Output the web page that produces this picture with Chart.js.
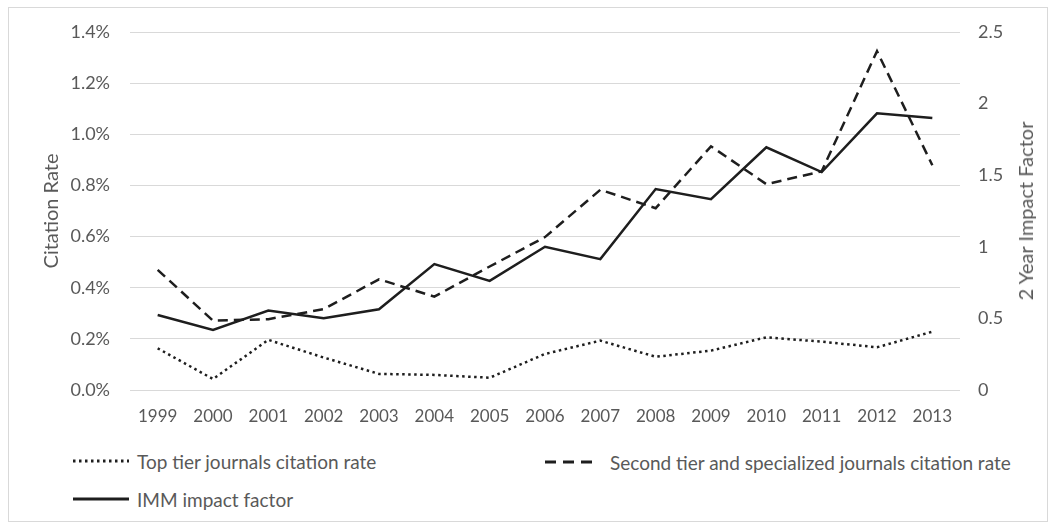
<!DOCTYPE html>
<html>
<head>
  <title>Citation Rate and IMM Impact Factor</title>
  <script src="https://cdn.jsdelivr.net/npm/chart.js@4.4.0/dist/chart.umd.min.js"></script>
  <style>
    body {
      margin: 0;
      padding: 0;
      background: #fff;
      font-family: Lato, "Open Sans", sans-serif;
    }

    #frame {
      position: absolute;
      left: 8px;
      top: 7px;
      width: 1040px;
      height: 515px;
      border: 1px solid #d9d9d9;
      box-sizing: border-box;
    }

    #wrap {
      position: absolute;
      left: 0;
      top: 0;
    }

    /* right axis title reads bottom to top, like the left one */
    #rightTitle {
      position: absolute;
      left: 1025px;
      top: 211px;
      transform: translate(-50%, -50%) rotate(-90deg);
      color: #595959;
      font-size: 20px;
      white-space: nowrap;
    }

    .legend-item {
      position: absolute;
      height: 20px;
      display: flex;
      align-items: center;
      color: #595959;
      font-size: 19px;
      white-space: nowrap;
    }
  </style>
</head>
<body>
  <div id="frame"></div>
  <div id="wrap"><canvas id="chart" width="1056" height="430"></canvas></div>
  <div id="rightTitle">2 Year Impact Factor</div>
  <div id="legend"></div>

  <script>
    // values
    const years = ['1999', '2000', '2001', '2002', '2003', '2004', '2005', '2006',
                   '2007', '2008', '2009', '2010', '2011', '2012', '2013'];

    // citation rates, in percent (left axis)
    const topTier = [0.163, 0.043, 0.196, 0.127, 0.063, 0.059, 0.048, 0.141,
                     0.193, 0.130, 0.154, 0.206, 0.189, 0.167, 0.228];
    const secondTier = [0.470, 0.271, 0.277, 0.316, 0.433, 0.365, 0.483, 0.598,
                        0.783, 0.711, 0.953, 0.805, 0.855, 1.325, 0.879];

    // 2 year impact factor (right axis)
    const immImpact = [0.524, 0.420, 0.555, 0.501, 0.564, 0.879, 0.762, 1.000,
                       0.914, 1.403, 1.333, 1.695, 1.522, 1.932, 1.900];

    const seriesNames = ['Top tier journals citation rate',
                         'Second tier and specialized journals citation rate',
                         'IMM impact factor'];

    const textColor = '#595959';
    const gridColor = '#d9d9d9';
    const lineColor = '#1e1e1e';

    const datasets = [
      {
        label: seriesNames[0],
        data: topTier,
        yAxisID: 'y',
        borderColor: lineColor,
        borderWidth: 2.5,
        borderDash: [2.5, 3.5],
        dash: '2.5 3.5'
      },
      {
        label: seriesNames[1],
        data: secondTier,
        yAxisID: 'y',
        borderColor: lineColor,
        borderWidth: 2.5,
        borderDash: [10, 6],
        dash: '11 7'
      },
      {
        label: seriesNames[2],
        data: immImpact,
        yAxisID: 'y1',
        borderColor: lineColor,
        borderWidth: 2.5,
        borderDash: [],
        dash: ''
      }
    ];

    datasets.forEach(d => {
      d.pointRadius = 0;
      d.tension = 0;
      d.fill = false;
    });

    const ctx = document.getElementById('chart').getContext('2d');
    const chart = new Chart(ctx, {
      type: 'line',
      data: {
        labels: years,
        datasets: datasets
      },
      options: {
        responsive: false,
        animation: false,
        layout: {
          padding: { top: 32, left: 0, right: 0, bottom: 0 }
        },
        plugins: {
          legend: { display: false },
          tooltip: { enabled: false }
        },
        scales: {
          x: {
            offset: true,
            grid: { display: false, drawTicks: false },
            border: { display: false },
            ticks: {
              color: textColor,
              font: { family: 'Lato', size: 17 },
              padding: 16,
              maxRotation: 0
            },
            afterFit: s => { s.height = 40; }
          },
          y: {
            position: 'left',
            min: 0,
            max: 1.4,
            grid: { color: gridColor, lineWidth: 1, drawTicks: false },
            border: { display: false },
            ticks: {
              stepSize: 0.2,
              color: textColor,
              font: { family: 'Lato', size: 18 },
              padding: 20,
              callback: v => v.toFixed(1) + '%'
            },
            title: {
              display: true,
              text: 'Citation Rate',
              color: textColor,
              font: { family: 'Lato', size: 20 },
              padding: { top: 40, bottom: 0 }
            },
            afterFit: s => { s.width = 130; }
          },
          y1: {
            position: 'right',
            min: 0,
            max: 2.5,
            grid: { display: false, drawTicks: false },
            border: { display: false },
            ticks: {
              stepSize: 0.5,
              color: textColor,
              font: { family: 'Lato', size: 18 },
              padding: 18,
              callback: v => String(+v.toFixed(1))
            },
            afterFit: s => { s.width = 96; }
          }
        }
      }
    });

    // legend in two columns like the original, built from the datasets
    const legendPos = [
      { left: 73, top: 451, w: 56, gap: 8 },
      { left: 545, top: 452, w: 52, gap: 13 },
      { left: 73, top: 489, w: 56, gap: 8 }
    ];
    const legend = document.getElementById('legend');
    datasets.forEach((d, i) => {
      const p = legendPos[i];
      const item = document.createElement('div');
      item.className = 'legend-item';
      item.style.left = p.left + 'px';
      item.style.top = p.top + 'px';
      item.innerHTML =
        '<svg width="' + p.w + '" height="6" style="margin-right:' + p.gap + 'px">' +
        '<line x1="0" y1="3" x2="' + p.w + '" y2="3" stroke="' + lineColor +
        '" stroke-width="3" stroke-dasharray="' + d.dash + '"/></svg>';
      const span = document.createElement('span');
      span.textContent = d.label;
      item.appendChild(span);
      legend.appendChild(item);
    });
  </script>
</body>
</html>
